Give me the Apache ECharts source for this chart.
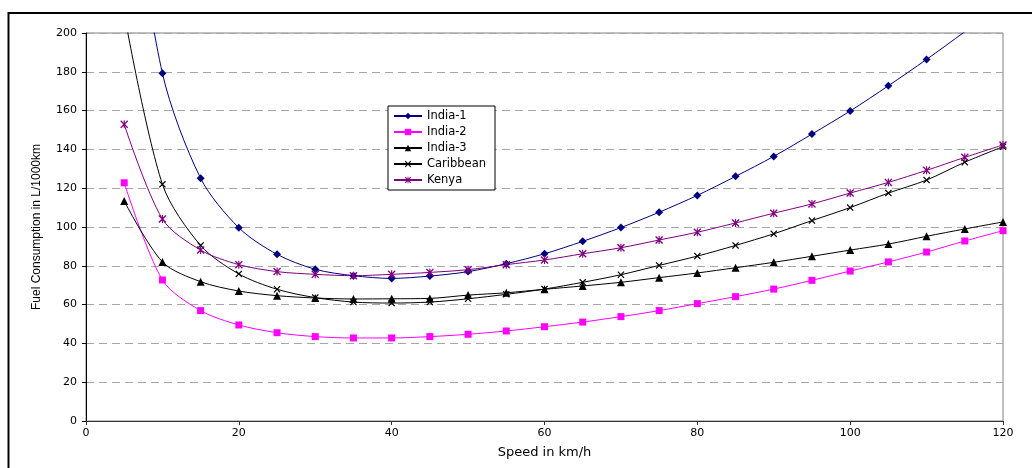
<!DOCTYPE html>
<html>
<head>
<meta charset="utf-8">
<script src="https://cdn.jsdelivr.net/npm/echarts@6/dist/echarts.min.js"></script>
<style>
html,body{margin:0;padding:0;background:#fff;}
#chart{width:1032px;height:468px;}
</style>
</head>
<body>
<div id="chart"></div>
<script>
// Data
var speeds = [5,10,15,20,25,30,35,40,45,50,55,60,65,70,75,80,85,90,95,100,105,110,115,120];
var india1 = [300,179.2,125.1,99.6,85.9,78.2,74.9,73.5,74.7,77.0,81.1,86.2,92.6,99.7,107.6,116.3,126.1,136.4,147.9,159.8,172.8,186.4,200.7,215.7];
var india2 = [122.8,72.7,56.9,49.5,45.5,43.5,42.8,42.8,43.5,44.7,46.4,48.6,51.0,53.8,56.9,60.5,64.1,68.0,72.5,77.3,82.0,87.1,92.8,98.1];
var india3 = [113.4,82.0,71.8,67.0,64.6,63.4,62.9,63.0,63.2,64.9,66.1,67.9,69.6,71.5,73.9,76.3,79.0,81.8,84.9,88.1,91.2,95.2,99.0,102.6];
var caribbean = [210,122.0,90.5,75.8,67.9,63.6,61.3,60.8,61.3,63.0,65.3,68.0,71.5,75.4,80.2,85.0,90.5,96.5,103.3,110.0,117.5,124.2,133.4,141.4];
var kenya = [152.9,104.1,88.1,80.6,77.0,75.6,74.9,75.6,76.6,78.0,80.6,83.0,86.2,89.3,93.3,97.3,102.1,107.1,111.9,117.5,123.0,129.2,135.9,142.3];
var seriesNames = ['India-1','India-2','India-3','Caribbean','Kenya'];
var xTicks = [0,20,40,60,80,100,120];
var yTicks = [0,20,40,60,80,100,120,140,160,180,200];

function pairs(vals){ return speeds.map(function(s,i){ return [s, vals[i]]; }); }

var xSym = 'path://M0,0.12 L0.12,0 L0.5,0.38 L0.88,0 L1,0.12 L0.62,0.5 L1,0.88 L0.88,1 L0.5,0.62 L0.12,1 L0,0.88 L0.38,0.5 Z';
var starSym = 'path://M0,0.12 L0.12,0 L0.5,0.38 L0.88,0 L1,0.12 L0.62,0.5 L1,0.88 L0.88,1 L0.5,0.62 L0.12,1 L0,0.88 L0.38,0.5 Z M0.43,0 L0.57,0 L0.57,1 L0.43,1 Z';

function mk(name, vals, color, symbol, size){
  return {
    name: name, type: 'line', data: pairs(vals),
    smooth: 0.3, clip: true,
    symbol: symbol, symbolSize: size,
    lineStyle: {color: color, width: 1},
    itemStyle: {color: color},
    emphasis: {disabled: true},
    animation: false
  };
}

var chart = echarts.init(document.getElementById('chart'), null, {renderer: 'canvas'});
chart.setOption({
  backgroundColor: '#fff',
  animation: false,
  grid: {left: 86, right: 29, top: 33, bottom: 47, show: true, borderColor: '#808080', borderWidth: 1, backgroundColor: 'transparent'},
  legend: {
    orient: 'vertical', left: 388, top: 106,
    data: seriesNames,
    backgroundColor: '#fff', borderColor: '#000', borderWidth: 1,
    padding: [3, 9, 3, 5],
    itemWidth: 28, itemHeight: 8, itemGap: 2,
    textStyle: {fontFamily: 'DejaVu Sans', fontSize: 11.5, color: '#000', lineHeight: 14}
  },
  xAxis: {
    type: 'value', min: 0, max: 120, interval: 20,
    name: 'Speed in km/h', nameLocation: 'middle', nameGap: 25,
    nameTextStyle: {fontFamily: 'DejaVu Sans', fontSize: 13, color: '#000'},
    axisLine: {show: true, lineStyle: {color: '#333', width: 1}},
    axisTick: {show: true, length: 4, lineStyle: {color: '#333'}},
    axisLabel: {fontFamily: 'DejaVu Sans', fontSize: 11, color: '#000', margin: 7,
      formatter: function(v){ return xTicks.indexOf(v) >= 0 ? String(v) : ''; }},
    splitLine: {show: false}
  },
  yAxis: {
    type: 'value', min: 0, max: 200, interval: 20,
    name: 'Fuel Consumption in L/1000km', nameLocation: 'middle', nameGap: 43,
    nameTextStyle: {fontFamily: 'Liberation Sans', fontSize: 12, color: '#000'},
    axisLine: {show: true, lineStyle: {color: '#000', width: 1}},
    axisTick: {show: true, length: 4, lineStyle: {color: '#000'}},
    axisLabel: {fontFamily: 'DejaVu Sans', fontSize: 11, color: '#000', margin: 9,
      formatter: function(v){ return yTicks.indexOf(v) >= 0 ? String(v) : ''; }},
    splitLine: {show: true, lineStyle: {color: '#a6a6a6', type: [8, 5], width: 1}}
  },
  graphic: [{
    type: 'rect', shape: {x: 8.5, y: 13, width: 1100, height: 600},
    style: {fill: 'none', stroke: '#000', lineWidth: 2}, silent: true, z: 100
  }],
  series: [
    mk('India-1', india1, '#000080', 'diamond', 8),
    mk('India-2', india2, '#ff00ff', 'rect', 7),
    mk('India-3', india3, '#000000', 'triangle', 8),
    mk('Caribbean', caribbean, '#000000', xSym, 7),
    mk('Kenya', kenya, '#800080', starSym, 8)
  ]
});
</script>
</body>
</html>
